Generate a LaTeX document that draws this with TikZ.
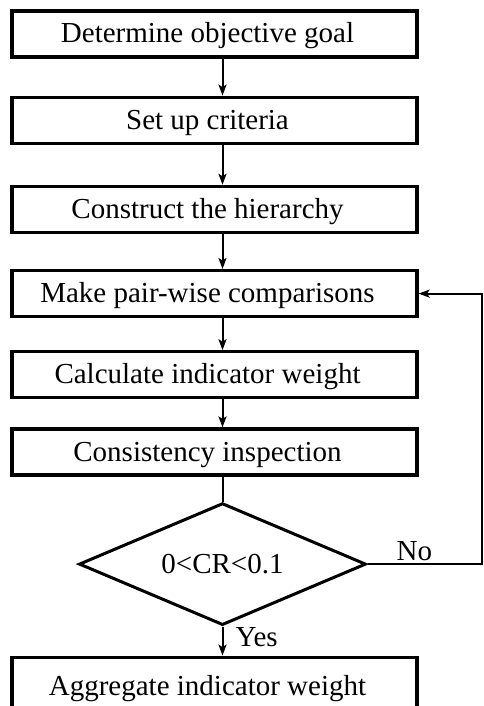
\documentclass[tikz,border=0pt]{standalone}
\usepackage{fontspec}
\setmainfont{Liberation Serif}
\usetikzlibrary{positioning,shapes.geometric,arrows.meta}

\tikzset{
  stepbox/.style={draw,line width=3.2pt,minimum width=405pt,minimum height=46pt,inner sep=0pt,
    text height=24pt,text depth=6pt,font=\fontsize{29}{34}\selectfont,
    execute at end node={\hspace*{14pt}}},
  checkbox/.style={draw,diamond,line width=3pt,shape aspect=2.35,minimum width=287pt,
    minimum height=122pt,inner sep=0pt,text height=24pt,text depth=6pt,
    font=\fontsize{29}{34}\selectfont},
  answer/.style={inner sep=0pt,font=\fontsize{29}{34}\selectfont},
  flow/.style={line width=2pt,-{Stealth[length=11pt,width=8pt,inset=2.5pt]}}
}

\begin{document}
\begin{tikzpicture}[x=1pt,y=1pt]
        \useasboundingbox (0,0) rectangle (484,-706);

        % Nodes
        \node[stepbox] (goal) at (214.5,-34) {Determine objective goal};
        \node[stepbox,below=37pt of goal] (crit) {Set up criteria};
        \node[stepbox,below=40pt of crit] (hier) {Construct the hierarchy};
        \node[stepbox,below=35pt of hier] (pair) {Make pair-wise comparisons};
        \node[stepbox,below=32pt of pair] (calc) {Calculate indicator weight};
        \node[stepbox,below=28pt of calc] (cons) {Consistency inspection};
        \node[checkbox,below=25pt of cons,xshift=8pt] (check) {0<CR<0.1};
        \node[stepbox,below=29pt of check,xshift=-8pt,minimum height=52pt,text height=30pt] (agg) {Aggregate indicator weight};
        \coordinate (back) at (482,0);

        % Connections
        \draw[flow] ([xshift=8pt]goal.south) -- ([xshift=8pt]crit.north);
        \draw[flow] ([xshift=8pt]crit.south) -- ([xshift=8pt]hier.north);
        \draw[flow] ([xshift=8pt]hier.south) -- ([xshift=8pt]pair.north);
        \draw[flow] ([xshift=8pt]pair.south) -- ([xshift=8pt]calc.north);
        \draw[flow] ([xshift=8pt]calc.south) -- ([xshift=8pt]cons.north);
        \draw[line width=2pt] ([xshift=8pt]cons.south) -- (check.north);
        \draw[flow] (check.south) -- node[answer,right=12pt,pos=0.35] (yes) {Yes} (check.south |- agg.north);
        \draw[flow] (check.east) -- node[answer,above=2pt,pos=0.41] (no) {No} (check.east -| back) |- (pair.east);
    \end{tikzpicture}
\end{document}
